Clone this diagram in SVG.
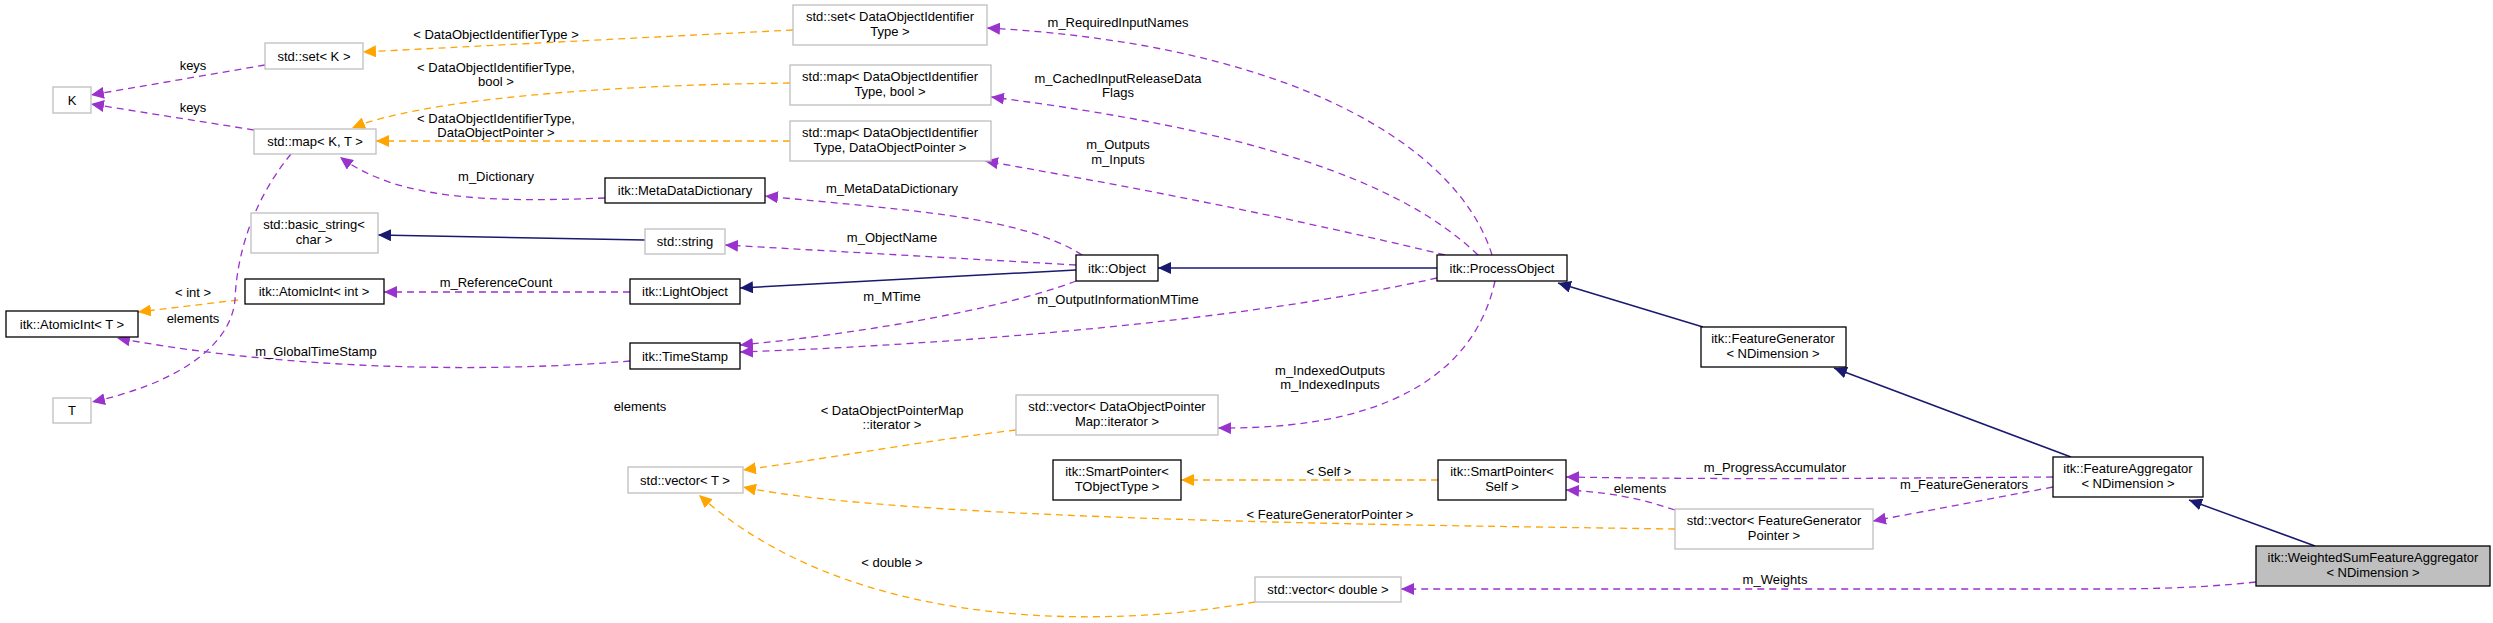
<svg xmlns="http://www.w3.org/2000/svg" width="2493" height="623" viewBox="0 0 2493 623">
<style>
text{font-family:"Liberation Sans",Arial,sans-serif;font-size:13px;text-anchor:middle;fill:#000}
.n{fill:#fff;stroke:#000;stroke-width:1.3}
.g{fill:#fff;stroke:#bfbfbf;stroke-width:1.3}
.cur{fill:#bfbfbf;stroke:#000;stroke-width:1.3}
.p{fill:none;stroke:#9a32cd;stroke-width:1.3;stroke-dasharray:7,5;marker-end:url(#mp)}
.o{fill:none;stroke:#ffa500;stroke-width:1.3;stroke-dasharray:7,5;marker-end:url(#mo)}
.b{fill:none;stroke:#191970;stroke-width:1.5;marker-end:url(#mb)}
</style>
<defs>
<marker id="mp" markerUnits="userSpaceOnUse" markerWidth="14" markerHeight="12" refX="13" refY="6" orient="auto"><path d="M0,0 L13,6 L0,12 Z" fill="#9a32cd"/></marker>
<marker id="mo" markerUnits="userSpaceOnUse" markerWidth="14" markerHeight="12" refX="13" refY="6" orient="auto"><path d="M0,0 L13,6 L0,12 Z" fill="#ffa500"/></marker>
<marker id="mb" markerUnits="userSpaceOnUse" markerWidth="14" markerHeight="12" refX="13" refY="6" orient="auto"><path d="M0,0 L13,6 L0,12 Z" fill="#191970"/></marker>
</defs>
<g id="connectors">
<path class="p" d="M265,65 L91,95"/>
<path class="p" d="M254,130 L91,104"/>
<path class="o" d="M793,30 L363,52"/>
<path class="o" d="M790,83 C600,85 420,100 352,128"/>
<path class="o" d="M790,141 L376,141"/>
<path class="p" d="M605,198 C500,202 400,202 340,157"/>
<path class="b" d="M645,240 L378,235"/>
<path class="p" d="M1076,265 L725,245"/>
<path class="p" d="M1082,255 C1020,215 900,210 765,196"/>
<path class="b" d="M1076,270 L740,288"/>
<path class="p" d="M630,292 L384,292"/>
<path class="o" d="M238,300 L138,312"/>
<path class="p" d="M291,154 C245,210 236,270 235,300 C230,350 170,385 92,402"/>
<path class="p" d="M630,361 C500,372 300,372 117,338"/>
<path class="p" d="M1076,281 C1000,310 850,335 740,345"/>
<path class="p" d="M1437,278 C1250,320 950,345 740,352"/>
<path class="b" d="M1437,268 L1158,268"/>
<path class="p" d="M1492,255 C1460,150 1300,45 987,28"/>
<path class="p" d="M1478,255 C1400,180 1250,130 991,97"/>
<path class="p" d="M1445,255 C1300,220 1150,190 985,161"/>
<path class="p" d="M1495,281 C1480,350 1420,430 1218,428"/>
<path class="o" d="M1016,430 C930,440 850,455 743,470"/>
<path class="o" d="M1438,480 L1181,480"/>
<path class="o" d="M1675,529 C1400,525 900,520 743,487"/>
<path class="o" d="M1255,602 C1100,630 850,630 699,495"/>
<path class="p" d="M2053,477 C1900,478 1750,480 1566,477"/>
<path class="p" d="M1675,510 C1630,495 1600,492 1566,490"/>
<path class="p" d="M2053,487 L1873,521"/>
<path class="p" d="M2256,582 C2200,588 2150,589 2100,589 L1401,589"/>
<path class="b" d="M1703,327 L1558,283"/>
<path class="b" d="M2071,457 L1834,368"/>
<path class="b" d="M2315,546 L2189,500"/>
</g>
<g id="labels">
<text x="193" y="70">keys</text>
<text x="193" y="112">keys</text>
<text x="496" y="39">&lt; DataObjectIdentifierType &gt;</text>
<text x="496" y="72">&lt; DataObjectIdentifierType,</text>
<text x="496" y="86">bool &gt;</text>
<text x="496" y="123">&lt; DataObjectIdentifierType,</text>
<text x="496" y="137">DataObjectPointer &gt;</text>
<text x="496" y="181">m_Dictionary</text>
<text x="892" y="242">m_ObjectName</text>
<text x="892" y="193">m_MetaDataDictionary</text>
<text x="496" y="287">m_ReferenceCount</text>
<text x="193" y="297">&lt; int &gt;</text>
<text x="193" y="323">elements</text>
<text x="316" y="356">m_GlobalTimeStamp</text>
<text x="892" y="301">m_MTime</text>
<text x="1118" y="304">m_OutputInformationMTime</text>
<text x="1118" y="27">m_RequiredInputNames</text>
<text x="1118" y="83">m_CachedInputReleaseData</text>
<text x="1118" y="97">Flags</text>
<text x="1118" y="149">m_Outputs</text>
<text x="1118" y="164">m_Inputs</text>
<text x="1330" y="375">m_IndexedOutputs</text>
<text x="1330" y="389">m_IndexedInputs</text>
<text x="892" y="415">&lt; DataObjectPointerMap</text>
<text x="892" y="429">::iterator &gt;</text>
<text x="1329" y="476">&lt; Self &gt;</text>
<text x="1330" y="519">&lt; FeatureGeneratorPointer &gt;</text>
<text x="892" y="567">&lt; double &gt;</text>
<text x="640" y="411">elements</text>
<text x="1775" y="472">m_ProgressAccumulator</text>
<text x="1640" y="493">elements</text>
<text x="1964" y="489">m_FeatureGenerators</text>
<text x="1775" y="584">m_Weights</text>
</g>
<g id="K"><rect class="g" x="53" y="87" width="38" height="26"/><text x="72" y="105">K</text></g>
<g id="setK"><rect class="g" x="265" y="43" width="98" height="26"/><text x="314" y="61">std::set&lt; K &gt;</text></g>
<g id="mapKT"><rect class="g" x="254" y="129" width="122" height="25"/><text x="315" y="146">std::map&lt; K, T &gt;</text></g>
<g id="MetaDataDictionary"><rect class="n" x="605" y="178" width="160" height="25"/><text x="685" y="195">itk::MetaDataDictionary</text></g>
<g id="basic_string"><rect class="g" x="251" y="213" width="127" height="40"/><text x="314" y="229">std::basic_string&lt;</text><text x="314" y="244">char &gt;</text></g>
<g id="string"><rect class="g" x="645" y="229" width="80" height="25"/><text x="685" y="246">std::string</text></g>
<g id="AtomicIntInt"><rect class="n" x="245" y="279" width="139" height="25"/><text x="314" y="296">itk::AtomicInt&lt; int &gt;</text></g>
<g id="LightObject"><rect class="n" x="630" y="279" width="110" height="25"/><text x="685" y="296">itk::LightObject</text></g>
<g id="AtomicIntT"><rect class="n" x="6" y="311" width="132" height="26"/><text x="72" y="329">itk::AtomicInt&lt; T &gt;</text></g>
<g id="TimeStamp"><rect class="n" x="630" y="343" width="110" height="26"/><text x="685" y="361">itk::TimeStamp</text></g>
<g id="T"><rect class="g" x="53" y="398" width="38" height="25"/><text x="72" y="415">T</text></g>
<g id="vectorT"><rect class="g" x="628" y="467" width="115" height="26"/><text x="685" y="485">std::vector&lt; T &gt;</text></g>
<g id="setDOIT"><rect class="g" x="793" y="5" width="194" height="40"/><text x="890" y="21">std::set&lt; DataObjectIdentifier</text><text x="890" y="36">Type &gt;</text></g>
<g id="mapBool"><rect class="g" x="790" y="65" width="201" height="40"/><text x="890" y="81">std::map&lt; DataObjectIdentifier</text><text x="890" y="96">Type, bool &gt;</text></g>
<g id="mapDOP"><rect class="g" x="790" y="121" width="201" height="40"/><text x="890" y="137">std::map&lt; DataObjectIdentifier</text><text x="890" y="152">Type, DataObjectPointer &gt;</text></g>
<g id="Object"><rect class="n" x="1076" y="255" width="82" height="26"/><text x="1117" y="273">itk::Object</text></g>
<g id="ProcessObject"><rect class="n" x="1437" y="255" width="130" height="26"/><text x="1502" y="273">itk::ProcessObject</text></g>
<g id="vectorIter"><rect class="g" x="1016" y="395" width="202" height="40"/><text x="1117" y="411">std::vector&lt; DataObjectPointer</text><text x="1117" y="426">Map::iterator &gt;</text></g>
<g id="SPTObjectType"><rect class="n" x="1053" y="460" width="128" height="40"/><text x="1117" y="476">itk::SmartPointer&lt;</text><text x="1117" y="491">TObjectType &gt;</text></g>
<g id="SPSelf"><rect class="n" x="1438" y="460" width="128" height="40"/><text x="1502" y="476">itk::SmartPointer&lt;</text><text x="1502" y="491">Self &gt;</text></g>
<g id="vectorDouble"><rect class="g" x="1255" y="577" width="146" height="25"/><text x="1328" y="594">std::vector&lt; double &gt;</text></g>
<g id="FeatureGenerator"><rect class="n" x="1701" y="327" width="145" height="40"/><text x="1773" y="343">itk::FeatureGenerator</text><text x="1773" y="358">&lt; NDimension &gt;</text></g>
<g id="FeatureAggregator"><rect class="n" x="2053" y="457" width="150" height="40"/><text x="2128" y="473">itk::FeatureAggregator</text><text x="2128" y="488">&lt; NDimension &gt;</text></g>
<g id="vectorFGP"><rect class="g" x="1675" y="509" width="198" height="40"/><text x="1774" y="525">std::vector&lt; FeatureGenerator</text><text x="1774" y="540">Pointer &gt;</text></g>
<g id="WeightedSum"><rect class="cur" x="2256" y="546" width="234" height="40"/><text x="2373" y="562">itk::WeightedSumFeatureAggregator</text><text x="2373" y="577">&lt; NDimension &gt;</text></g>
</svg>
